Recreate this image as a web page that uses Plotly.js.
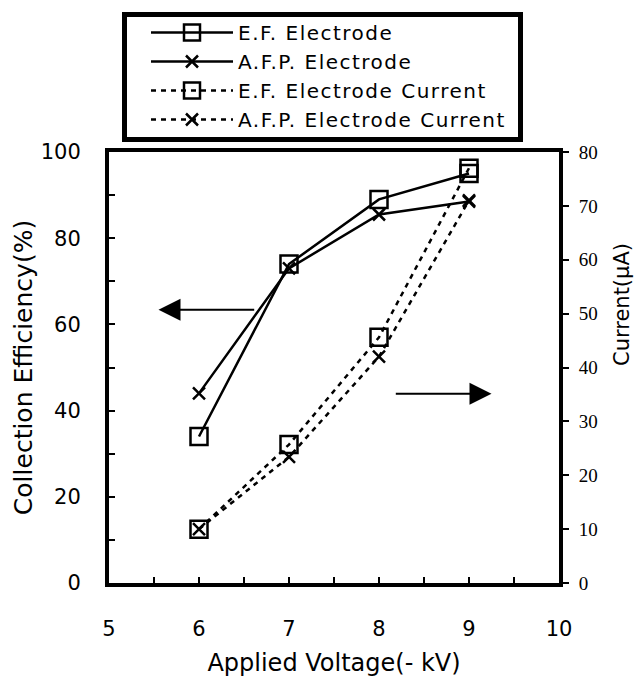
<!DOCTYPE html>
<html>
<head>
<meta charset="utf-8">
<script src="https://cdn.plot.ly/plotly-3.0.1.min.js"></script>
<style>
html,body{margin:0;padding:0;background:#fff;}
#chart{width:637px;height:677px;}
#chart .legendtext{letter-spacing:1.5px;}
#chart .legend .scrollbox{clip-path:none !important;}
</style>
</head>
<body>
<div id="chart"></div>
<script>
// Data
const voltage = [6, 7, 8, 9];
const efEfficiency = [34, 74, 89, 95];
const afpEfficiency = [44, 73, 85.5, 88.5];
const efCurrent = [10, 25.7, 45.6, 77];
const afpCurrent = [10, 23.4, 42, 71];
const seriesNames = ['E.F. Electrode', 'A.F.P. Electrode', 'E.F. Electrode Current', 'A.F.P. Electrode Current'];
const xTicks = [5, 6, 7, 8, 9, 10];
const yTicks = [0, 20, 40, 60, 80, 100];
const y2Ticks = [0, 10, 20, 30, 40, 50, 60, 70, 80];

const sans = 'DejaVu Sans, sans-serif';
const serif = 'Liberation Serif, Times New Roman, serif';

const sq = {symbol: 'square-open', size: 17, color: '#000', line: {width: 2.5, color: '#000'}};
const xm = {symbol: 'x-thin-open', size: 12, color: '#000', line: {width: 2.5, color: '#000'}};

const traces = [
  {x: voltage, y: efEfficiency, name: seriesNames[0], mode: 'lines+markers', yaxis: 'y',
   line: {color: '#000', width: 2.5}, marker: sq},
  {x: voltage, y: afpEfficiency, name: seriesNames[1], mode: 'lines+markers', yaxis: 'y',
   line: {color: '#000', width: 2.5}, marker: xm},
  {x: voltage, y: efCurrent, name: seriesNames[2], mode: 'lines+markers', yaxis: 'y2',
   line: {color: '#000', width: 2.5, dash: '5px,5px'}, marker: sq},
  {x: voltage, y: afpCurrent, name: seriesNames[3], mode: 'lines+markers', yaxis: 'y2',
   line: {color: '#000', width: 2.5, dash: '5px,5px'}, marker: xm}
];

const L = 109, R = 559, T = 152, B = 583, W = 637, H = 677;
const pw = R - L, ph = B - T;
const px = v => (v - L) / pw;
const py = v => (B - v) / ph;

const layout = {
  width: W, height: H,
  margin: {l: L, r: W - R, t: T, b: H - B, pad: 0},
  paper_bgcolor: '#fff', plot_bgcolor: '#fff',
  font: {family: sans, color: '#000', size: 20},
  showlegend: true,
  legend: {
    x: px(146), y: py(13), xanchor: 'left', yanchor: 'top',
    bgcolor: 'rgba(0,0,0,0)', borderwidth: 0,
    font: {family: sans, size: 20, color: '#000'},
    itemwidth: 82, tracegroupgap: 0
  },
  xaxis: {
    range: [5, 10], tickvals: xTicks, ticktext: xTicks.map(String),
    showgrid: false, zeroline: false,
    showline: true, linecolor: '#000', linewidth: 4, mirror: true,
    ticks: 'inside', ticklen: 6, tickwidth: 2, tickcolor: '#000',
    minor: {dtick: 0.5, tick0: 5, ticks: 'inside', ticklen: 6, tickwidth: 2, tickcolor: '#000'},
    tickfont: {family: sans, size: 21},
    ticklabelstandoff: 24,
    title: {text: 'Applied Voltage(- kV)', font: {family: sans, size: 24}, standoff: 16}
  },
  yaxis: {
    range: [0, 100], tickvals: yTicks, ticktext: yTicks.map(String),
    showgrid: false, zeroline: false,
    showline: true, linecolor: '#000', linewidth: 4,
    ticks: 'inside', ticklen: 6, tickwidth: 2, tickcolor: '#000',
    minor: {dtick: 10, tick0: 0, ticks: 'inside', ticklen: 6, tickwidth: 2, tickcolor: '#000'},
    tickfont: {family: sans, size: 21},
    ticklabelstandoff: 20,
    title: {text: 'Collection Efficiency(%)', font: {family: sans, size: 25}, standoff: 2}
  },
  yaxis2: {
    overlaying: 'y', side: 'right', range: [0, 80],
    tickvals: y2Ticks, ticktext: y2Ticks.map(String),
    showgrid: false, zeroline: false,
    showline: true, linecolor: '#000', linewidth: 4,
    ticks: 'outside', ticklen: 6, tickwidth: 2, tickcolor: '#000',
    tickfont: {family: serif, size: 19},
    ticklabelstandoff: 6
  },
  shapes: [
    {type: 'rect', xref: 'paper', yref: 'paper',
     x0: px(124.5), x1: px(520.5), y0: py(139.5), y1: py(14.5),
     line: {color: '#000', width: 5}, fillcolor: 'rgba(0,0,0,0)', layer: 'above'}
  ],
  annotations: [
    {xref: 'paper', yref: 'paper', x: px(622), y: py(305), xanchor: 'center', yanchor: 'middle',
     text: 'Current(μA)', textangle: -90, showarrow: false, font: {family: sans, size: 21, color: '#000'}},
    {xref: 'x', yref: 'y', axref: 'x', ayref: 'y', x: 5.55, y: 63.4, ax: 6.63, ay: 63.4,
     text: '', showarrow: true, arrowhead: 2, arrowsize: 2.2, arrowwidth: 2, arrowcolor: '#000', standoff: 0},
    {xref: 'x', yref: 'y', axref: 'x', ayref: 'y', x: 9.25, y: 43.9, ax: 8.17, ay: 43.9,
     text: '', showarrow: true, arrowhead: 2, arrowsize: 2.2, arrowwidth: 2, arrowcolor: '#000', standoff: 0}
  ]
};

Plotly.newPlot('chart', traces, layout, {staticPlot: true, displayModeBar: false});
</script>
</body>
</html>
